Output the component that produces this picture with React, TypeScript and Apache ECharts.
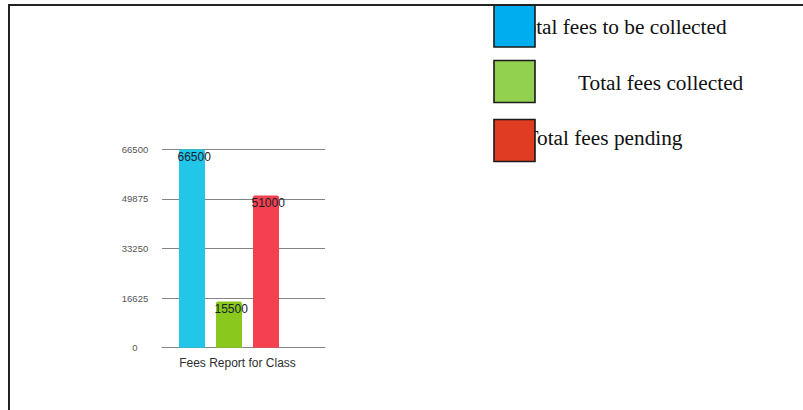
import React, { useEffect, useRef } from "react";
import * as echarts from "echarts";

const categories = ["Fees Report for Class"];
const seriesNames = ["Total fees to be collected", "Total fees collected", "Total fees pending"];
const seriesValues = [66500, 15500, 51000];
const barColors = ["#22c6e8", "#8ac81e", "#f5404f"];
const legendColors = ["#00aeef", "#92d050", "#e03c22"];
const yTicks = [0, 16625, 33250, 49875, 66500];

export default function App() {
  const ref = useRef<HTMLDivElement>(null);
  useEffect(() => {
    if (!ref.current) return;
    const chart = echarts.init(ref.current, undefined, { renderer: "svg" });
    const bars = seriesNames.map((name, i) => ({
      name,
      type: "bar",
      barWidth: 26,
      barGap: "42.3%",
      data: [seriesValues[i]],
      itemStyle: { color: barColors[i], borderRadius: [2, 2, 0, 0] },
      label: {
        show: true,
        position: [-1.5, 1.5],
        align: "left",
        verticalAlign: "top",
        color: "#17232c",
        fontSize: 12,
        fontFamily: "Arial, Liberation Sans, sans-serif",
      },
    }));
    // spacer series keeps the group offset as in the original
    bars.push({
      name: "spacer",
      type: "bar",
      barWidth: 18,
      barGap: "42.3%",
      data: [0],
      itemStyle: { color: "rgba(0,0,0,0)", borderRadius: [0, 0, 0, 0] },
      label: { show: false } as any,
      silent: true,
    } as any);

    const legendTextX = [514, 578, 525.5];
    const legendTextY = [27.3, 83, 138.2];
    const legendBoxY = [5, 60.5, 119.5];
    const graphic: any[] = [];
    seriesNames.forEach((name, i) => {
      graphic.push({
        type: "text",
        x: legendTextX[i],
        y: legendTextY[i],
        z: 10,
        style: {
          text: name,
          fontSize: 21.3,
          fontFamily: "Liberation Serif, Times New Roman, serif",
          fill: "#111",
          align: "left",
          verticalAlign: "middle",
        },
      });
    });
    seriesNames.forEach((_, i) => {
      graphic.push({
        type: "rect",
        z: 20,
        shape: { x: 494, y: legendBoxY[i], width: 41, height: 42 },
        style: { fill: legendColors[i], stroke: "#1a1a1a", lineWidth: 1.6 },
      });
    });
    graphic.push({
      type: "line",
      z: 30,
      shape: { x1: 8, y1: 5, x2: 803, y2: 5 },
      style: { stroke: "#222", lineWidth: 2 },
    });
    graphic.push({
      type: "line",
      z: 30,
      shape: { x1: 9, y1: 4, x2: 9, y2: 410 },
      style: { stroke: "#222", lineWidth: 2 },
    });

    chart.setOption({
      animation: false,
      backgroundColor: "#ffffff",
      grid: { left: 162, right: 478, top: 149.3, bottom: 62.3, containLabel: false },
      xAxis: {
        type: "category",
        data: categories,
        axisTick: { show: false },
        axisLine: { show: true, lineStyle: { color: "#858585", width: 1 } },
        axisLabel: {
          margin: 9,
          color: "#2e2e2e",
          fontSize: 12,
          fontFamily: "Arial, Liberation Sans, sans-serif",
          padding: [0, 12, 0, 0],
        },
      },
      yAxis: {
        type: "value",
        min: yTicks[0],
        max: yTicks[yTicks.length - 1],
        interval: yTicks[1] - yTicks[0],
        axisLine: { show: false },
        axisTick: { show: false },
        splitLine: { lineStyle: { color: "#858585", width: 1 } },
        axisLabel: {
          margin: 27,
          align: "center",
          color: "#555",
          fontSize: 9.5,
          fontFamily: "Arial, Liberation Sans, sans-serif",
          formatter: (v: number) => String(v),
        },
      },
      series: bars,
      graphic,
    });
    return () => chart.dispose();
  }, []);
  return (
    <div
      ref={ref}
      style={{ position: "fixed", left: 0, top: 0, width: 803, height: 410, background: "#fff" }}
    />
  );
}
